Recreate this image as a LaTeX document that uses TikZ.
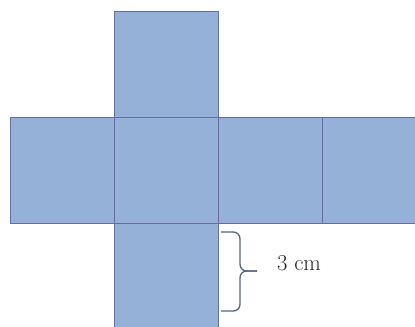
\documentclass[tikz,border=0pt]{standalone}
\usepackage{tikz}
\usetikzlibrary{positioning}
\definecolor{faceblue}{RGB}{149,177,215}
\definecolor{edgeblue}{RGB}{102,110,160}
\definecolor{bracegray}{RGB}{85,100,128}

\begin{document}
\begin{tikzpicture}[x=0.75pt, y=-0.75pt, node distance=0pt,
  face/.style={draw=edgeblue, fill=faceblue, line width=0.75pt, minimum width=78pt, minimum height=79.5pt, inner sep=0pt, outer sep=0pt}]
\clip (0,0) rectangle (415,327);
\node[face] (sqcenter) at (166,171) {};
\node[face, above=of sqcenter] (sqtop) {};
\node[face, below=of sqcenter] (sqbottom) {};
\node[face, left=of sqcenter] (sqleft) {};
\node[face, right=of sqcenter] (sqright) {};
\node[face, right=of sqright] (sqfar) {};
% brace next to the bottom square
\draw [bracegray, line width=1pt, rounded corners=5pt] (221,232) -| (240,271) -- (257,271);
\draw [bracegray, line width=1pt, rounded corners=5pt] (221,311) -| (240,271) -- (257,271);
\node[font=\fontsize{17}{19}\selectfont, text=black!85] (side) at (299,263) {3 cm};
\end{tikzpicture}
\end{document}
